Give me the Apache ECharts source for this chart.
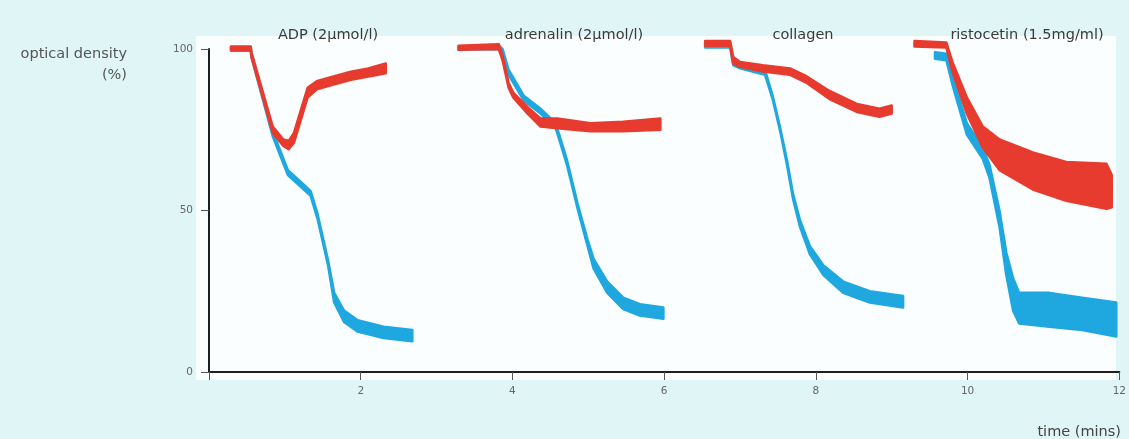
<!DOCTYPE html>
<html>
<head>
<meta charset="utf-8">
<script src="https://cdn.jsdelivr.net/npm/echarts@6/dist/echarts.min.js"></script>
<style>
  html, body { margin: 0; padding: 0; background: #e0f5f5; }
  #chart { width: 1129px; height: 439px; }
</style>
</head>
<body>
<div id="chart"></div>
<script>
/* traces: [time (mins), lower edge %, upper edge %] */

const adpRed = [[0.29, 99.5, 100.8], [0.55, 99.5, 100.8], [0.56, 97.5, 99], [0.84, 74, 76], [0.98, 70, 72],
  [1.05, 69, 71.5], [1.12, 71, 74], [1.21, 78, 81], [1.3, 85, 88], [1.42, 87.5, 90], [1.57, 88.5, 91],
  [1.87, 90.5, 93], [2.1, 91.5, 94], [2.33, 92.5, 95.5]];
const adpBlue = [[0.29, 99.5, 100.5], [0.55, 99.5, 100.5], [0.56, 97.5, 98.5], [0.84, 73, 74.5], [1.04, 61, 62.5],
  [1.25, 56.5, 58], [1.34, 54.5, 56], [1.43, 47.5, 49], [1.57, 33, 34.5], [1.65, 21.5, 24.5], [1.78, 15.5, 19],
  [1.96, 12.5, 16], [2.3, 10.5, 14], [2.68, 9.5, 13]];

const adrRed = [[3.29, 99.8, 101], [3.82, 100, 101.5], [3.87, 96.5, 98], [3.95, 88, 89.5], [4.01, 85, 86.5],
  [4.2, 80, 82], [4.37, 76, 78.5], [4.59, 75.5, 78.5], [5.03, 74.5, 77], [5.46, 74.5, 77.5], [5.95, 75, 78.5]];
const adrBlue = [[3.29, 99.8, 100.8], [3.82, 100, 101], [3.87, 98.5, 100], [3.95, 92, 93.5], [4.15, 84, 85.5],
  [4.37, 80, 81.5], [4.57, 75.5, 77], [4.63, 71, 72.5], [4.72, 64, 65.5], [4.86, 50.5, 52], [4.99, 39, 41],
  [5.07, 32, 35], [5.25, 24.5, 28], [5.46, 19.5, 23], [5.68, 17.5, 21], [5.99, 16.5, 20]];

const colRed = [[6.54, 101, 102.5], [6.87, 101, 102.5], [6.91, 95.5, 97.5], [7.0, 94.5, 96], [7.3, 93, 95],
  [7.66, 92, 94], [7.88, 89.5, 91.5], [8.18, 84.5, 87], [8.54, 80.5, 83], [8.84, 79, 81.5], [9.0, 80, 82.5]];
const colBlue = [[6.54, 100.5, 101.5], [6.87, 100.5, 101.5], [6.91, 95, 96.5], [7.0, 94, 95.5], [7.33, 92, 93.5],
  [7.43, 84.5, 85.5], [7.53, 74.5, 75.5], [7.62, 64, 65.5], [7.7, 53.5, 55], [7.79, 45, 47], [7.92, 36.5, 39],
  [8.1, 30, 33], [8.36, 24.5, 28], [8.71, 21.5, 25], [9.15, 20, 23.5]];

const risRed = [[9.3, 100.8, 102.5], [9.72, 100.5, 102], [9.8, 93, 96], [9.99, 80, 85], [10.2, 69.5, 76],
  [10.42, 62.5, 72], [10.86, 56.5, 68], [11.3, 53, 65], [11.83, 50.5, 64.5], [11.9, 51, 61]];
const risBlue = [[9.57, 97, 99], [9.72, 96.5, 98.5], [9.8, 89, 92], [9.99, 73.5, 77], [10.2, 66, 69.5],
  [10.29, 60, 64], [10.42, 45, 50], [10.51, 30, 37], [10.6, 19, 29], [10.68, 15, 24.5], [11.08, 14, 24.5],
  [11.51, 13, 23], [11.96, 11, 21.5]];

const panelTitles = ['ADP (2\u03bcmol/l)', 'adrenalin (2\u03bcmol/l)', 'collagen', 'ristocetin (1.5mg/ml)'];
const xTicks = [0, 2, 4, 6, 8, 10, 12];
const yTicks = [0, 50, 100];

const RED = '#e63b2e';
const BLUE = '#1fa8df';
const FONT = 'DejaVu Sans';

const traces = [
  { data: adpBlue, color: BLUE }, { data: adrBlue, color: BLUE },
  { data: colBlue, color: BLUE }, { data: risBlue, color: BLUE },
  { data: adpRed, color: RED }, { data: adrRed, color: RED },
  { data: colRed, color: RED }, { data: risRed, color: RED },
];

// each trace is a filled band: upper edge forward, lower edge back
const series = traces.map(tr => ({
  type: 'custom',
  silent: true,
  z: tr.color === RED ? 4 : 3,
  data: tr.data,
  encode: { x: 0, y: [1, 2] },
  renderItem: (params, api) => {
    if (params.dataIndex !== 0) return null;
    const upper = tr.data.map(p => api.coord([p[0], p[2]]));
    const lower = tr.data.map(p => api.coord([p[0], p[1]])).reverse();
    return {
      type: 'polygon',
      shape: { points: upper.concat(lower) },
      style: { fill: tr.color, stroke: tr.color, lineWidth: 2.5, lineJoin: 'round' },
    };
  },
}));

const textStyle = { fontFamily: FONT, fontSize: 14.5, fontWeight: 'normal', color: '#3a3a3a' };
const titleCenters = [323, 569, 798, 1022];
const title = panelTitles.map((t, i) => ({
  text: t,
  left: titleCenters[i],
  top: 23,
  textAlign: 'center',
  textStyle: textStyle,
}));
title.push(
  { text: 'optical density', right: 997, top: 42, textStyle: { ...textStyle, color: '#555' } },
  { text: '(%)', right: 997, top: 63, textStyle: { ...textStyle, color: '#555' } },
  { text: 'time (mins)', right: 3, top: 420, textStyle: { ...textStyle, color: '#444' } }
);

const axisCommon = {
  type: 'value',
  splitLine: { show: false },
  axisLine: { show: true, lineStyle: { color: '#1e1e1e', width: 2 } },
  axisTick: { show: true, length: 8, lineStyle: { color: '#555', width: 1 } },
  axisLabel: { color: '#666', fontSize: 10.5, fontFamily: FONT },
};

const myChart = echarts.init(document.getElementById('chart'), null, { renderer: 'canvas' });
myChart.setOption({
  animation: false,
  backgroundColor: '#e0f5f5',
  title: title,
  graphic: [{
    type: 'rect',
    z: -10,
    silent: true,
    shape: { x: 196, y: 36, width: 920, height: 344 },
    style: { fill: '#fbfefe' },
  }],
  grid: { left: 209, right: 9, top: 49, bottom: 67 },
  xAxis: {
    ...axisCommon,
    min: xTicks[0],
    max: xTicks[xTicks.length - 1],
    interval: xTicks[1] - xTicks[0],
    axisLabel: { ...axisCommon.axisLabel, margin: 14, formatter: v => (v === 0 ? '' : v) },
  },
  yAxis: {
    ...axisCommon,
    min: yTicks[0],
    max: yTicks[yTicks.length - 1],
    interval: yTicks[1] - yTicks[0],
    axisLabel: { ...axisCommon.axisLabel, margin: 16 },
  },
  series: series,
});
</script>
</body>
</html>
